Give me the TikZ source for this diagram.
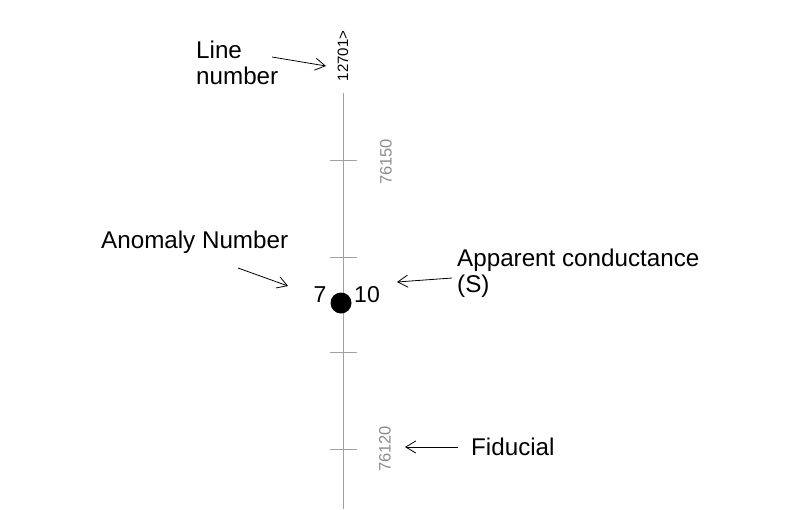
\documentclass[tikz,border=0pt]{standalone}
\usepackage{fontspec}
\setmainfont{Liberation Sans}
\usetikzlibrary{arrows.meta}
\definecolor{profilegrey}{HTML}{A0A0A0}
\definecolor{fidgrey}{HTML}{8C8C8C}

\begin{document}
\begin{tikzpicture}[
  x=1pt, y=-1pt,
  note/.style={inner sep=0pt, font=\fontsize{24.2}{25.5}\selectfont, align=left},
  fidlabel/.style={inner sep=0pt, rotate=90, text=fidgrey,
                   font=\fontsize{16.5}{17}\selectfont},
  profile/.style={draw=profilegrey, line width=0.9pt},
  pointer/.style={-{Straight Barb[length=10pt, width=12pt]}, line width=0.8pt},
  anomdot/.style={circle, fill=black, inner sep=0pt, minimum size=21pt},
]
\useasboundingbox (0,0) rectangle (787,509);

% flight line and fiducial ticks
\draw[profile] (343,93) -- (343,509);
\foreach \y in {160,257,352,449} { \draw[profile] (330,\y) -- (357,\y); }

\node[inner sep=0pt, rotate=90, font=\fontsize{15}{16}\selectfont] (lineid) at (343,56) {12701>};
\node[fidlabel] (fid1) at (386,162) {76150};
\node[fidlabel] (fid2) at (385,449) {76120};

% anomaly
\node[anomdot] (anom) at (341,303) {};
\node[inner sep=0pt, anchor=base, font=\fontsize{23}{24}\selectfont] (anomno) at (320,302) {7};
\node[inner sep=0pt, anchor=base, font=\fontsize{23}{24}\selectfont] (cond) at (367,302) {10};

% legend notes
\node[note, anchor=north west] (linenote) at (196,41) {Line\\number};
\node[note, anchor=base west] (anomnote) at (101,248) {Anomaly Number};
\node[note, anchor=north west] (condnote) at (457,249) {Apparent conductance\\(S)};
\node[note, anchor=base west] (fidnote) at (471,455) {Fiducial};

\coordinate (lineA) at (272,57);  \coordinate (lineB) at (326,66);
\coordinate (anomA) at (238,268); \coordinate (anomB) at (288,286);
\coordinate (condA) at (452,278); \coordinate (condB) at (397,282);
\coordinate (fidA) at (458,447);  \coordinate (fidB) at (405,447);

\draw[pointer] (lineA) -- (lineB);
\draw[pointer] (anomA) -- (anomB);
\draw[pointer] (condA) -- (condB);
\draw[pointer] (fidA) -- (fidB);
\end{tikzpicture}
\end{document}
